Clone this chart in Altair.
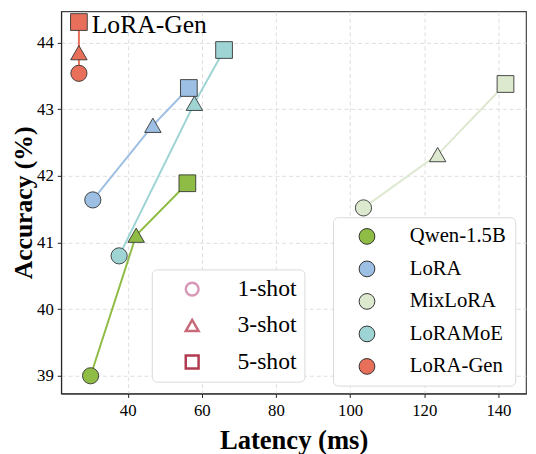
import altair as alt
import pandas as pd

FONT = "Liberation Serif"

methods = ["Qwen-1.5B", "LoRA", "MixLoRA", "LoRAMoE", "LoRA-Gen"]
method_colors = ["#8fbc45", "#9dbfe3", "#dde9cf", "#9fd4d4", "#e8705a"]
shots = ["1-shot", "3-shot", "5-shot"]
shot_colors = ["#d899b9", "#c86a7a", "#b03a50"]

qwen_latency = [30.0, 42.3, 56.1]
qwen_acc = [39.00, 41.11, 41.89]
lora_latency = [30.6, 46.8, 56.5]
lora_acc = [41.64, 42.76, 43.32]
mixlora_latency = [103.6, 123.6, 141.9]
mixlora_acc = [41.52, 42.32, 43.38]
loramoe_latency = [37.7, 58.0, 66.0]
loramoe_acc = [40.80, 43.09, 43.89]
loragen_latency = [26.85, 26.85, 26.85]
loragen_acc = [43.54, 43.85, 44.31]

series = {
    "Qwen-1.5B": (qwen_latency, qwen_acc),
    "LoRA": (lora_latency, lora_acc),
    "MixLoRA": (mixlora_latency, mixlora_acc),
    "LoRAMoE": (loramoe_latency, loramoe_acc),
    "LoRA-Gen": (loragen_latency, loragen_acc),
}

rows = []
for m in methods:
    lat, acc = series[m]
    for i, s in enumerate(shots):
        rows.append({"method": m, "shot": s, "k": i, "latency": lat[i], "accuracy": acc[i]})
df = pd.DataFrame(rows)

axis_style = dict(
    titleFont=FONT,
    labelFont=FONT,
    titleFontWeight="bold",
    labelFontSize=17,
    tickSize=4,
    gridDash=[4, 3],
    gridColor="#dddddd",
    domainColor="#222222",
    tickColor="#222222",
    labelColor="black",
    titleColor="black",
)

x_enc = alt.X(
    "latency:Q",
    scale=alt.Scale(domain=[22.07, 147.44], nice=False, zero=False),
    axis=alt.Axis(
        values=[40, 60, 80, 100, 120, 140],
        title="Latency (ms)",
        titleFontSize=27,
        titlePadding=10,
        labelPadding=5,
        **axis_style,
    ),
)
y_enc = alt.Y(
    "accuracy:Q",
    scale=alt.Scale(domain=[38.734, 44.47], nice=False, zero=False),
    axis=alt.Axis(
        values=[39, 40, 41, 42, 43, 44],
        title="Accuracy (%)",
        titleFontSize=26,
        titleX=-30,
        titleBaseline="alphabetic",
        labelPadding=4,
        **axis_style,
    ),
)

base = alt.Chart(df)

lines = base.mark_line(strokeWidth=2).encode(
    x=x_enc,
    y=y_enc,
    color=alt.Color("method:N", scale=alt.Scale(domain=methods, range=method_colors), legend=None),
    detail="method:N",
    order="k:Q",
)

shape_scale = alt.Scale(domain=shots, range=["circle", "triangle-up", "square"])

method_legend = alt.Legend(
    orient="none",
    legendX=276,
    legendY=209,
    symbolType="circle",
    symbolSize=256,
    symbolStrokeColor="#333333",
    symbolStrokeWidth=1,
    symbolOffset=15,
    labelOffset=33,
    labelFontSize=21,
    labelFont=FONT,
    labelColor="black",
    rowPadding=11,
    padding=9,
    fillColor="white",
    strokeColor="#d9d9d9",
    cornerRadius=5,
)

points = base.mark_point(filled=True, opacity=1, stroke="#333333", strokeWidth=0.9).encode(
    x=x_enc,
    y=y_enc,
    fill=alt.Fill(
        "method:N",
        scale=alt.Scale(domain=methods, range=method_colors),
        title=None,
        legend=method_legend,
    ),
    shape=alt.Shape("shot:N", scale=shape_scale, legend=None),
    size=alt.Size("shot:N", scale=alt.Scale(domain=shots, range=[270, 289, 240]), legend=None),
)

shot_legend = alt.Legend(
    orient="none",
    legendX=92,
    legendY=262,
    symbolSize=170,
    symbolStrokeWidth=2.5,
    symbolFillColor="transparent",
    symbolOpacity=1,
    symbolOffset=21,
    labelOffset=34,
    labelFontSize=24,
    labelFont=FONT,
    labelColor="black",
    rowPadding=13,
    padding=8,
    fillColor="white",
    strokeColor="#d9d9d9",
    cornerRadius=5,
)

shot_key = base.mark_point(filled=False, opacity=1, strokeWidth=2.5).encode(
    x=x_enc,
    y=y_enc,
    shape=alt.Shape("shot:N", scale=shape_scale, title=None, legend=shot_legend),
    stroke=alt.Stroke("shot:N", scale=alt.Scale(domain=shots, range=shot_colors), title=None, legend=shot_legend),
).transform_filter("false")

label = base.mark_text(
    align="left", baseline="middle", dx=13, dy=3, fontSize=26, font=FONT, color="black"
).encode(
    x=x_enc,
    y=y_enc,
    text="method:N",
).transform_filter("datum.method == 'LoRA-Gen' && datum.k == 2")

chart = (
    alt.layer(lines, points, shot_key, label)
    .resolve_scale(
        shape="independent",
        stroke="independent",
        fill="independent",
        size="independent",
        color="independent",
    )
    .resolve_legend(
        shape="independent",
        stroke="independent",
        fill="independent",
    )
    .properties(
        width=472,
        height=388,
        autosize=alt.AutoSizeParams(type="none"),
        padding={"left": 54, "top": 0, "right": 2, "bottom": 58},
        background="white",
    )
    .configure(font=FONT)
    .configure_view(stroke="#444444", strokeWidth=1.2)
)

chart.save("out.html", embed_options={"renderer": "svg", "actions": False})
